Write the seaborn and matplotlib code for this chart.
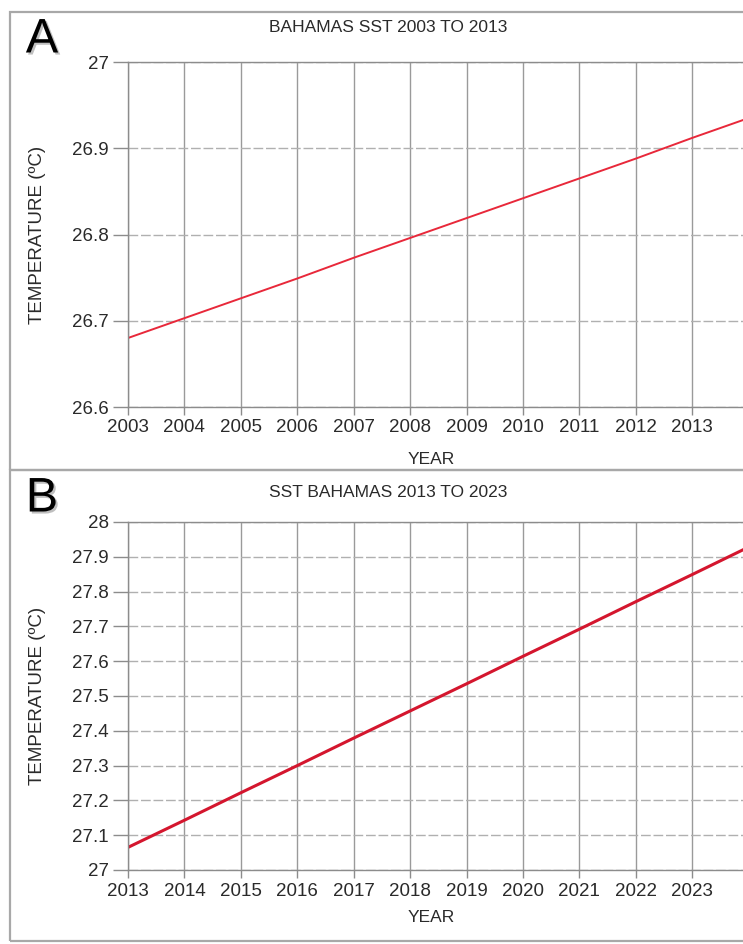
import numpy as np
import pandas as pd
import seaborn as sns
import matplotlib.pyplot as plt
import matplotlib.patheffects as pe
from matplotlib.patches import Rectangle

# values (line values at each year)
years_a = [2003, 2004, 2005, 2006, 2007, 2008, 2009, 2010, 2011, 2012, 2013, 2014]
sst_a = [26.680, 26.703, 26.726, 26.749, 26.773, 26.796, 26.819, 26.842, 26.865, 26.888, 26.912, 26.935]

years_b = [2013, 2014, 2015, 2016, 2017, 2018, 2019, 2020, 2021, 2022, 2023, 2024]
sst_b = [27.065, 27.143, 27.222, 27.300, 27.379, 27.457, 27.535, 27.614, 27.692, 27.771, 27.849, 27.928]

ticks_a = [26.6, 26.7, 26.8, 26.9, 27]
ticks_b = [27, 27.1, 27.2, 27.3, 27.4, 27.5, 27.6, 27.7, 27.8, 27.9, 28]

sns.set_theme(style='white')
plt.rcParams['font.family'] = ['Liberation Sans', 'DejaVu Sans']

W, H = 743, 944
fig = plt.figure(figsize=(W / 100, H / 100), dpi=100)

def box(x0, y0, x1, y1):
    # pixel box -> figure fraction [left, bottom, width, height]
    return [x0 / W, 1 - y1 / H, (x1 - x0) / W, (y1 - y0) / H]

# panel frames
frame_kw = dict(transform=fig.transFigure, fill=False, edgecolor='#a8a8a8', linewidth=1.6)
fig.patches.append(Rectangle((10 / W, 1 - 470 / H), 0.99, (470 - 12) / H, **frame_kw))
fig.patches.append(Rectangle((10 / W, 1 - 941 / H), 0.99, (941 - 470) / H, **frame_kw))

TXT = '#2a2a2a'


def panel(rect, years, vals, ticks, x0, title, letter, title_y, letter_y, year_y, lw, color):
    ax = fig.add_axes(box(*rect))
    df = pd.DataFrame({'YEAR': years, 'SST': vals})
    sns.lineplot(data=df, x='YEAR', y='SST', ax=ax, color=color, linewidth=lw)
    ax.set_xlim(x0, x0 + 10.9)
    ax.set_ylim(ticks[0], ticks[-1])
    ax.set_xticks(range(x0, x0 + 11))
    ax.set_xticklabels([str(y) for y in range(x0, x0 + 11)])
    ax.set_yticks(ticks)
    ax.set_yticklabels([f'{t:g}' for t in ticks])
    ax.xaxis.grid(True, color='#9a9a9a', linewidth=1.0, linestyle='-')
    ax.yaxis.grid(True, color='#b0b0b0', linewidth=1.0, linestyle=(0, (7, 2)))
    for s in ['left', 'top', 'bottom']:
        ax.spines[s].set_visible(True)
        ax.spines[s].set_color('#8c8c8c')
        ax.spines[s].set_linewidth(1.0)
    ax.spines['right'].set_visible(False)
    ax.tick_params(axis='x', direction='out', length=6, width=1, color='#8c8c8c',
                   labelsize=13.5, labelcolor=TXT, pad=3, bottom=True)
    ax.tick_params(axis='y', direction='out', length=11, width=1, color='#8c8c8c',
                   labelsize=13.5, labelcolor=TXT, pad=3, left=True)
    ax.set_xlabel('')
    ax.set_ylabel('')
    ax.set_facecolor('white')
    top, bottom = rect[1], rect[3]
    fig.text(38 / W, 1 - ((top + bottom) / 2) / H, 'TEMPERATURE (ºC)', rotation=90,
             ha='center', va='center', fontsize=13.5, color=TXT)
    fig.text(431 / W, 1 - year_y / H, 'YEAR', ha='center', va='center',
             fontsize=12.5, color=TXT)
    fig.text(388 / W, 1 - title_y / H, title, ha='center', va='center',
             fontsize=12.5, color=TXT)
    t = fig.text(42 / W, 1 - letter_y / H, letter, ha='center', va='center',
                 fontsize=35, color='black',
                 family=['Liberation Sans Narrow', 'Liberation Sans', 'DejaVu Sans'])
    t.set_path_effects([pe.withSimplePatchShadow(offset=(1.5, -1.5), alpha=0.25)])
    return ax


panel((128, 62, 743, 407), years_a, sst_a, ticks_a, 2003, 'BAHAMAS SST 2003 TO 2013',
      'A', 28, 40, 459, 1.4, '#e8283a')
panel((128, 522, 743, 870), years_b, sst_b, ticks_b, 2013, 'SST BAHAMAS 2013 TO 2023',
      'B', 492, 499, 917, 2.2, '#d4162e')

fig.savefig('out.png', dpi=100, facecolor='white')
